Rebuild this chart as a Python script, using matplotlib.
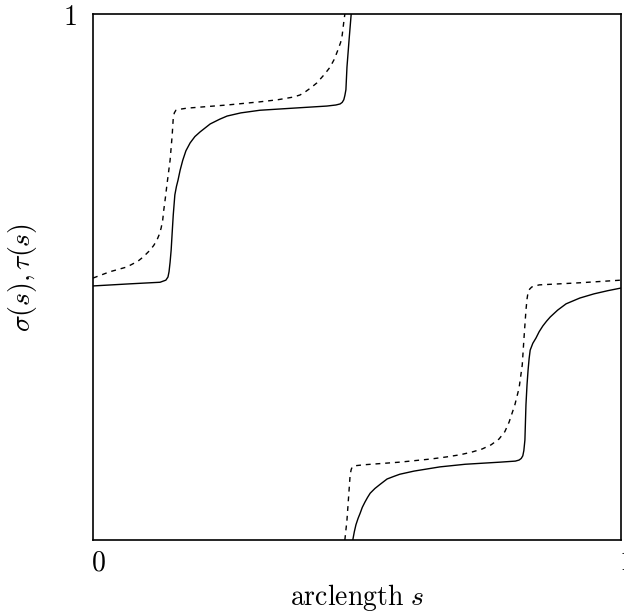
import numpy as np
import matplotlib
matplotlib.use('Agg')
import matplotlib.pyplot as plt
import matplotlib.transforms as mtransforms

plt.rcParams['mathtext.fontset'] = 'cm'

# sigma(s), solid line (two branches, wraps at 1)
sig_s1 = [0.0, 0.070, 0.127, 0.138, 0.142, 0.144, 0.146, 0.148, 0.150, 0.152,
          0.155, 0.158, 0.161, 0.165, 0.170, 0.176, 0.184, 0.193, 0.203, 0.222,
          0.240, 0.254, 0.280, 0.316, 0.379, 0.443, 0.460, 0.468, 0.472, 0.475,
          0.477, 0.479, 0.481, 0.485, 0.489]
sig_y1 = [0.483, 0.487, 0.490, 0.494, 0.500, 0.510, 0.528, 0.551, 0.585, 0.618,
          0.656, 0.672, 0.684, 0.703, 0.722, 0.740, 0.755, 0.767, 0.776, 0.791,
          0.800, 0.806, 0.812, 0.817, 0.821, 0.825, 0.827, 0.829, 0.832, 0.837,
          0.845, 0.856, 0.899, 0.951, 1.0]
sig_s2 = [0.492, 0.495, 0.498, 0.502, 0.506, 0.510, 0.515, 0.520, 0.525, 0.534,
          0.544, 0.557, 0.570, 0.581, 0.608, 0.657, 0.705, 0.771, 0.800, 0.807,
          0.811, 0.814, 0.816, 0.818, 0.820, 0.822, 0.824, 0.826, 0.828, 0.833,
          0.839, 0.845, 0.852, 0.859, 0.866, 0.880, 0.896, 0.922, 0.949, 0.975,
          1.0]
sig_y2 = [0.0, 0.016, 0.029, 0.041, 0.051, 0.062, 0.072, 0.081, 0.089, 0.098,
          0.106, 0.116, 0.121, 0.125, 0.131, 0.139, 0.144, 0.148, 0.150, 0.152,
          0.155, 0.160, 0.170, 0.190, 0.257, 0.295, 0.323, 0.345, 0.361, 0.374,
          0.384, 0.396, 0.407, 0.416, 0.424, 0.437, 0.449, 0.460, 0.468, 0.474,
          0.479]

# tau(s), dashed line
tau_s1 = [0.0, 0.032, 0.064, 0.085, 0.095, 0.108, 0.115, 0.121, 0.126, 0.129,
          0.132, 0.134, 0.137, 0.140, 0.146, 0.150, 0.152, 0.154, 0.157, 0.165,
          0.178, 0.254, 0.316, 0.350, 0.379, 0.392, 0.402, 0.413, 0.424, 0.439,
          0.449, 0.457, 0.464, 0.469, 0.472, 0.475, 0.477]
tau_y1 = [0.498, 0.510, 0.519, 0.530, 0.538, 0.551, 0.560, 0.570, 0.582, 0.593,
          0.608, 0.627, 0.650, 0.675, 0.722, 0.770, 0.802, 0.812, 0.817, 0.819,
          0.821, 0.827, 0.833, 0.837, 0.842, 0.846, 0.852, 0.860, 0.869, 0.886,
          0.899, 0.914, 0.932, 0.946, 0.960, 0.985, 1.0]
tau_s2 = [0.477, 0.481, 0.485, 0.487, 0.489, 0.491, 0.495, 0.513, 0.581, 0.640,
          0.670, 0.695, 0.717, 0.737, 0.754, 0.769, 0.780, 0.788, 0.799, 0.807,
          0.813, 0.816, 0.820, 0.822, 0.824, 0.827, 0.831, 0.845, 0.922, 1.0]
tau_y2 = [0.0, 0.038, 0.095, 0.124, 0.134, 0.139, 0.141, 0.143, 0.148, 0.154,
          0.158, 0.162, 0.167, 0.173, 0.181, 0.192, 0.206, 0.224, 0.257, 0.289,
          0.333, 0.380, 0.437, 0.458, 0.471, 0.477, 0.481, 0.485, 0.489, 0.494]

fig = plt.figure(figsize=(6.24, 6.13), dpi=100)
ax = fig.add_axes([93 / 624, 73 / 613, 528 / 624, 526 / 613])

for s, y in [(sig_s1, sig_y1), (sig_s2, sig_y2)]:
    ax.plot(s, y, color='black', lw=1.0)
for s, y in [(tau_s1, tau_y1), (tau_s2, tau_y2)]:
    ax.plot(s, y, color='black', lw=1.0, dashes=(3.5, 3.5))

ax.set_xlim(0, 1)
ax.set_ylim(0, 1)
ax.set_xticks([0, 1])
ax.set_xticklabels([r'$0$', r'$1$'], fontsize=20)
ax.set_yticks([1])
ax.set_yticklabels([r'$1$'], fontsize=20)
ax.tick_params(axis='x', length=0, pad=6)
ax.tick_params(axis='y', length=0, pad=12)
shift = mtransforms.ScaledTranslation(5 / 100, 0, fig.dpi_scale_trans)
for lab in ax.get_xticklabels():
    lab.set_transform(lab.get_transform() + shift)
for sp in ax.spines.values():
    sp.set_linewidth(1.2)

ax.set_xlabel(r'$\mathrm{arclength}\ s$', fontsize=20, labelpad=4)
ax.set_ylabel(r'$\sigma(s), \tau(s)$', fontsize=20, labelpad=17)

fig.savefig('out.png', dpi=100)
